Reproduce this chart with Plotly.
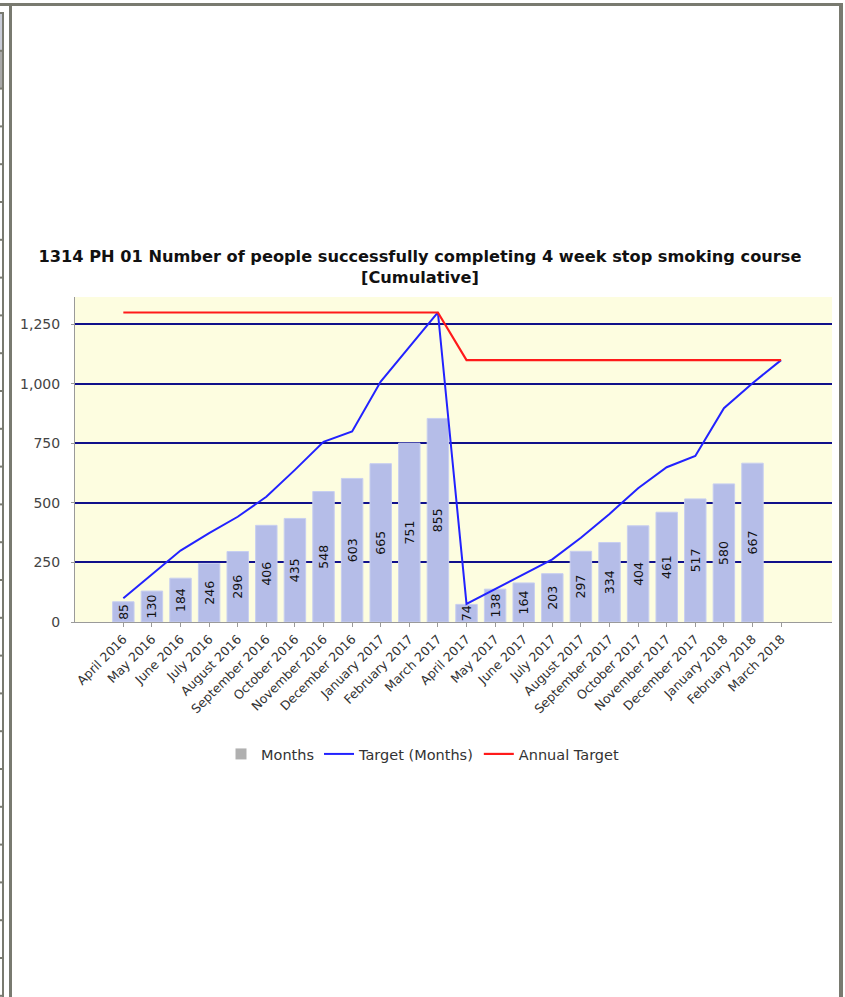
import plotly.graph_objects as go

months = ["April 2016", "May 2016", "June 2016", "July 2016", "August 2016",
          "September 2016", "October 2016", "November 2016", "December 2016",
          "January 2017", "February 2017", "March 2017", "April 2017", "May 2017",
          "June 2017", "July 2017", "August 2017", "September 2017", "October 2017",
          "November 2017", "December 2017", "January 2018", "February 2018", "March 2018"]

actual = [85, 130, 184, 246, 296, 406, 435, 548, 603, 665, 751, 855,
          74, 138, 164, 203, 297, 334, 404, 461, 517, 580, 667, None]

target_months = [100, 200, 300, 373, 442, 526, 639, 757, 800, 1010, 1155, 1300,
                 76, 139, 200, 263, 354, 454, 562, 650, 697, 898, 1003, 1100]

annual_target = [1300] * 12 + [1100] * 12

W, H = 845, 997
L, R, T, B = 75, 13, 297, 375
PW, PH = W - L - R, H - T - B

def px(x):
    return (x - L) / PW

def py(y):
    return (H - B - y) / PH

FONT = "DejaVu Sans"
BORDER = "#797a70"

fig = go.Figure()

fig.add_trace(go.Bar(
    x=months, y=actual, name="Months", showlegend=False,
    marker=dict(color="#b5bde8", line=dict(color="#c8cff0", width=1)),
    text=[str(v) if v is not None else "" for v in actual],
    textposition="inside", insidetextanchor="middle", textangle=-90,
    constraintext="none", cliponaxis=False,
    textfont=dict(family=FONT, size=12.5, color="#111111"),
    width=0.75,
))

# legend proxy for bar series (grey swatch as in reference)
fig.add_trace(go.Scatter(
    x=[None], y=[None], mode="markers", name="Months",
    marker=dict(symbol="square", size=11, color="#b0b0b0"),
))

fig.add_trace(go.Scatter(
    x=months, y=target_months, mode="lines", name="Target (Months)",
    line=dict(color="#2222ff", width=2),
))

fig.add_trace(go.Scatter(
    x=months, y=annual_target, mode="lines", name="Annual Target",
    line=dict(color="#ff1a1a", width=2.2),
))

shapes = []
# top border
shapes.append(dict(type="rect", xref="paper", yref="paper",
                   x0=px(0), x1=px(843), y0=py(6), y1=py(3),
                   fillcolor=BORDER, line=dict(width=0), layer="above"))
# right border
shapes.append(dict(type="rect", xref="paper", yref="paper",
                   x0=px(839), x1=px(843), y0=py(997), y1=py(3),
                   fillcolor=BORDER, line=dict(width=0), layer="above"))
# inner left border
shapes.append(dict(type="rect", xref="paper", yref="paper",
                   x0=px(9), x1=px(12), y0=py(997), y1=py(5),
                   fillcolor=BORDER, line=dict(width=0), layer="above"))
# left table strip: cells
shapes.append(dict(type="rect", xref="paper", yref="paper",
                   x0=px(0), x1=px(2), y0=py(50), y1=py(13),
                   fillcolor="#c9ccd8", line=dict(width=0), layer="above"))
shapes.append(dict(type="rect", xref="paper", yref="paper",
                   x0=px(0), x1=px(2), y0=py(88), y1=py(51),
                   fillcolor="#a9a9a9", line=dict(width=0), layer="above"))
shapes.append(dict(type="rect", xref="paper", yref="paper",
                   x0=px(2), x1=px(4), y0=py(997), y1=py(12),
                   fillcolor=BORDER, line=dict(width=0), layer="above"))
y = 12.0
while y < 997:
    shapes.append(dict(type="rect", xref="paper", yref="paper",
                       x0=px(0), x1=px(4), y0=py(y + 2), y1=py(y),
                       fillcolor=BORDER, line=dict(width=0), layer="above"))
    y += 37.8

fig.update_layout(
    width=W, height=H,
    margin=dict(l=L, r=R, t=T, b=B, pad=0),
    paper_bgcolor="white",
    plot_bgcolor="#fdfde0",
    font=dict(family=FONT, size=11, color="#333333"),
    title=dict(
        text="<b>1314 PH 01 Number of people successfully completing 4 week stop smoking course<br>[Cumulative]</b>",
        x=0.497, xanchor="center", xref="container",
        y=1 - 262 / H, yanchor="top", yref="container",
        font=dict(family=FONT, size=16.2, color="#111111"),
    ),
    barmode="overlay",
    bargap=0.25,
    showlegend=True,
    legend=dict(orientation="h", x=0.5, xanchor="center", xref="container",
                y=1 - 738 / H, yanchor="top", yref="container",
                font=dict(family=FONT, size=14.5, color="#333333"),
                itemwidth=30, tracegroupgap=0, bgcolor="rgba(0,0,0,0)"),
    xaxis=dict(
        type="category", range=[-1.69, 24.78],
        tickangle=-45, tickfont=dict(family=FONT, size=12.5, color="#333333"),
        showgrid=False, showline=True, linecolor="#9a9a9a", linewidth=1,
        ticks="outside", ticklen=4, tickcolor="#9a9a9a", zeroline=False,
        fixedrange=True,
    ),
    yaxis=dict(
        range=[0, 1365], tickvals=[0, 250, 500, 750, 1000, 1250],
        tickformat=",", tickfont=dict(family=FONT, size=14, color="#444444"),
        showgrid=True, gridcolor="#10108a", gridwidth=1.5,
        showline=True, linecolor="#9a9a9a", linewidth=1,
        ticks="outside", ticklen=3, tickcolor="#9a9a9a", zeroline=False,
        ticklabelstandoff=8,
        layer="below traces",
    ),
    shapes=shapes,
)

fig.write_html(
    "out.html",
    config={"displayModeBar": False},
    post_script="document.body.style.margin='0px';document.documentElement.style.overflow='hidden';",
)
